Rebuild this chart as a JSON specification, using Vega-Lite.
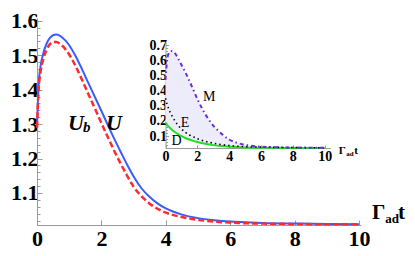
{
  "$schema": "https://vega.github.io/schema/vega-lite/v6.json",
  "width": 324,
  "height": 207,
  "autosize": {"type": "none"},
  "padding": {"left": 37, "top": 18, "right": 54, "bottom": 31},
  "background": "white",
  "config": {
    "view": {"stroke": null},
    "axis": {"grid": false, "domainColor": "#9a9a9a", "tickColor": "#9a9a9a", "labelColor": "#000", "labelFont": "Liberation Serif", "labelFontWeight": "bold", "title": null, "labelOverlap": false, "labelFlush": false, "labelBound": false}
  },
  "datasets": {
    "main": [
      {"t": 0, "U": 1.29, "Ub": 1.29},
      {"t": 0.05, "U": 1.415, "Ub": 1.40},
      {"t": 0.1, "U": 1.462, "Ub": 1.445},
      {"t": 0.2, "U": 1.507, "Ub": 1.49},
      {"t": 0.3, "U": 1.534, "Ub": 1.516},
      {"t": 0.4, "U": 1.550, "Ub": 1.532},
      {"t": 0.5, "U": 1.558, "Ub": 1.538},
      {"t": 0.6, "U": 1.560, "Ub": 1.538},
      {"t": 0.7, "U": 1.557, "Ub": 1.534},
      {"t": 0.8, "U": 1.550, "Ub": 1.526},
      {"t": 0.9, "U": 1.541, "Ub": 1.515},
      {"t": 1.0, "U": 1.529, "Ub": 1.502},
      {"t": 1.2, "U": 1.497, "Ub": 1.468},
      {"t": 1.4, "U": 1.459, "Ub": 1.428},
      {"t": 1.6, "U": 1.418, "Ub": 1.386},
      {"t": 1.8, "U": 1.378, "Ub": 1.345},
      {"t": 2.0, "U": 1.338, "Ub": 1.303},
      {"t": 2.2, "U": 1.297, "Ub": 1.262},
      {"t": 2.4, "U": 1.257, "Ub": 1.222},
      {"t": 2.6, "U": 1.219, "Ub": 1.185},
      {"t": 2.8, "U": 1.182, "Ub": 1.150},
      {"t": 3.0, "U": 1.148, "Ub": 1.118},
      {"t": 3.25, "U": 1.113, "Ub": 1.090},
      {"t": 3.5, "U": 1.088, "Ub": 1.069},
      {"t": 3.75, "U": 1.069, "Ub": 1.054},
      {"t": 4.0, "U": 1.055, "Ub": 1.043},
      {"t": 4.5, "U": 1.037, "Ub": 1.030},
      {"t": 5.0, "U": 1.027, "Ub": 1.022},
      {"t": 5.5, "U": 1.021, "Ub": 1.017},
      {"t": 6.0, "U": 1.017, "Ub": 1.014},
      {"t": 6.5, "U": 1.015, "Ub": 1.012},
      {"t": 7.0, "U": 1.013, "Ub": 1.011},
      {"t": 8.0, "U": 1.011, "Ub": 1.010},
      {"t": 9.0, "U": 1.010, "Ub": 1.009},
      {"t": 10.0, "U": 1.009, "Ub": 1.009}
    ],
    "inset": [
      {"t": 0, "M": 0.47, "E": 0.35, "D": 0.19},
      {"t": 0.1, "M": 0.60, "E": 0.31, "D": 0.175},
      {"t": 0.2, "M": 0.645, "E": 0.28, "D": 0.163},
      {"t": 0.3, "M": 0.658, "E": 0.255, "D": 0.152},
      {"t": 0.4, "M": 0.66, "E": 0.235, "D": 0.142},
      {"t": 0.6, "M": 0.645, "E": 0.20, "D": 0.126},
      {"t": 0.8, "M": 0.61, "E": 0.17, "D": 0.112},
      {"t": 1.0, "M": 0.57, "E": 0.148, "D": 0.100},
      {"t": 1.25, "M": 0.52, "E": 0.125, "D": 0.088},
      {"t": 1.5, "M": 0.465, "E": 0.108, "D": 0.078},
      {"t": 1.75, "M": 0.405, "E": 0.095, "D": 0.069},
      {"t": 2.0, "M": 0.345, "E": 0.083, "D": 0.062},
      {"t": 2.5, "M": 0.245, "E": 0.066, "D": 0.050},
      {"t": 3.0, "M": 0.17, "E": 0.054, "D": 0.041},
      {"t": 3.5, "M": 0.118, "E": 0.045, "D": 0.035},
      {"t": 4.0, "M": 0.078, "E": 0.038, "D": 0.031},
      {"t": 4.5, "M": 0.056, "E": 0.034, "D": 0.028},
      {"t": 5.0, "M": 0.043, "E": 0.031, "D": 0.026},
      {"t": 6.0, "M": 0.031, "E": 0.028, "D": 0.024},
      {"t": 7.0, "M": 0.027, "E": 0.026, "D": 0.023},
      {"t": 8.0, "M": 0.025, "E": 0.025, "D": 0.022},
      {"t": 9.0, "M": 0.024, "E": 0.024, "D": 0.022},
      {"t": 10.0, "M": 0.023, "E": 0.023, "D": 0.022}
    ],
    "mainBig": [
      {"x": 0.96, "y": 1.283, "label": "U"},
      {"x": 2.14, "y": 1.283, "label": "U"}
    ],
    "mainSub": [
      {"x": 1.43, "y": 1.277, "label": "b"}
    ],
    "mainTitle": [
      {"x": 10.40, "y": 1.0244, "label": "Γ"},
      {"x": 11.21, "y": 1.0244, "label": "t"}
    ],
    "mainTitleSub": [
      {"x": 10.81, "y": 1.0128, "label": "ad"}
    ],
    "insetText": [
      {"x": 2.36, "y": 0.331, "label": "M"},
      {"x": 0.96, "y": 0.158, "label": "E"},
      {"x": 0.38, "y": 0.045, "label": "D"}
    ],
    "insetTitle": [
      {"x": 10.88, "y": -0.017, "label": "Γ"},
      {"x": 11.86, "y": -0.017, "label": "t"}
    ],
    "insetTitleSub": [
      {"x": 11.36, "y": -0.031, "label": "ad"}
    ]
  },
  "layer": [
    {
      "layer": [
        {
          "data": {"name": "main"},
          "mark": {"type": "line", "color": "#3a5cff", "strokeWidth": 2, "interpolate": "monotone"},
          "encoding": {
            "x": {"field": "t", "type": "quantitative",
              "scale": {"domain": [0, 10.06], "nice": false, "zero": false},
              "axis": {"orient": "bottom", "labelOverlap": false, "values": [0,0.5,1,1.5,2,2.5,3,3.5,4,4.5,5,5.5,6,6.5,7,7.5,8,8.5,9,9.5,10],
                "labelExpr": "datum.value % 2 === 0 ? datum.label : ''",
                "tickSize": {"condition": {"test": "datum.value % 1 === 0", "value": -5}, "value": -3},
                "labelFontSize": 22, "labelPadding": 8}},
            "y": {"field": "U", "type": "quantitative",
              "scale": {"domain": [1.007, 1.608], "nice": false, "zero": false},
              "axis": {"orient": "left", "labelOverlap": false, "values": [1.1, 1.2, 1.3, 1.4, 1.5, 1.6], "format": ".1f",
                "tickSize": -5, "labelFontSize": 22, "labelPadding": 4, "labelBaseline": "middle"}}
          }
        },
        {
          "data": {"name": "main"},
          "mark": {"type": "line", "color": "#ff2a2a", "strokeWidth": 2.5, "strokeDash": [6, 3], "interpolate": "monotone"},
          "encoding": {
            "x": {"field": "t", "type": "quantitative"},
            "y": {"field": "Ub", "type": "quantitative"}
          }
        },
        {
          "data": {"name": "mainBig"},
          "mark": {"type": "text", "align": "left", "baseline": "alphabetic", "font": "Liberation Serif", "fontWeight": "bold", "fontStyle": "italic", "fontSize": 22, "color": "#000"},
          "encoding": {"x": {"field": "x", "type": "quantitative"}, "y": {"field": "y", "type": "quantitative"}, "text": {"field": "label"}}
        },
        {
          "data": {"name": "mainSub"},
          "mark": {"type": "text", "align": "left", "baseline": "alphabetic", "font": "Liberation Serif", "fontWeight": "bold", "fontStyle": "italic", "fontSize": 15, "color": "#000"},
          "encoding": {"x": {"field": "x", "type": "quantitative"}, "y": {"field": "y", "type": "quantitative"}, "text": {"field": "label"}}
        },
        {
          "data": {"name": "mainTitle"},
          "mark": {"type": "text", "align": "left", "baseline": "alphabetic", "font": "Liberation Serif", "fontWeight": "bold", "fontSize": 21, "color": "#000"},
          "encoding": {"x": {"field": "x", "type": "quantitative"}, "y": {"field": "y", "type": "quantitative"}, "text": {"field": "label"}}
        },
        {
          "data": {"name": "mainTitleSub"},
          "mark": {"type": "text", "align": "left", "baseline": "alphabetic", "font": "Liberation Serif", "fontWeight": "bold", "fontSize": 13, "color": "#000"},
          "encoding": {"x": {"field": "x", "type": "quantitative"}, "y": {"field": "y", "type": "quantitative"}, "text": {"field": "label"}}
        }
      ]
    },
    {
      "data": {"name": "main"},
      "mark": {"type": "line", "opacity": 0},
      "encoding": {
        "x": {"field": "t", "type": "quantitative", "scale": {"domain": [0, 10.06], "nice": false, "zero": false}, "axis": null},
        "y": {"field": "U", "type": "quantitative",
          "scale": {"domain": [1.007, 1.608], "nice": false, "zero": false},
          "axis": {"orient": "left", "labels": false, "domain": false, "tickSize": -3,
            "values": [1.02,1.04,1.06,1.08,1.12,1.14,1.16,1.18,1.22,1.24,1.26,1.28,1.32,1.34,1.36,1.38,1.42,1.44,1.46,1.48,1.52,1.54,1.56,1.58]}}
      }
    },
    {
      "layer": [
        {
          "data": {"name": "inset"},
          "mark": {"type": "area", "color": "#ececfb", "interpolate": "monotone"},
          "encoding": {
            "x": {"field": "t", "type": "quantitative",
              "scale": {"domain": [0, 10.35], "range": [128.5, 293.2], "nice": false, "zero": false},
              "axis": {"orient": "bottom", "offset": -77, "labelOverlap": false, "values": [0,0.5,1,1.5,2,2.5,3,3.5,4,4.5,5,5.5,6,6.5,7,7.5,8,8.5,9,9.5,10],
                "labelExpr": "datum.value % 2 === 0 ? datum.label : ''",
                "tickSize": {"condition": {"test": "datum.value % 1 === 0", "value": -3}, "value": -2},
                "labelFontSize": 14, "labelPadding": 4}},
            "y": {"field": "M", "type": "quantitative",
              "scale": {"domain": [0.022, 0.72], "range": [130, 24], "nice": false, "zero": false},
              "axis": {"orient": "left", "offset": -128.5, "labelOverlap": false, "values": [0.1, 0.3, 0.5, 0.7], "format": ".1f",
                "tickSize": -3, "labelFontSize": 14, "labelPadding": 2, "labelBaseline": "middle"}},
            "y2": {"field": "D"}
          }
        },
        {
          "data": {"name": "inset"},
          "mark": {"type": "line", "color": "#22dd22", "strokeWidth": 2, "interpolate": "monotone"},
          "encoding": {"x": {"field": "t", "type": "quantitative"}, "y": {"field": "D", "type": "quantitative"}}
        },
        {
          "data": {"name": "inset"},
          "mark": {"type": "line", "color": "#000", "strokeWidth": 1.6, "strokeDash": [1.5, 3], "interpolate": "monotone"},
          "encoding": {"x": {"field": "t", "type": "quantitative"}, "y": {"field": "E", "type": "quantitative"}}
        },
        {
          "data": {"name": "inset"},
          "mark": {"type": "line", "color": "#6a2ed8", "strokeWidth": 2, "strokeDash": [4, 3, 1.5, 3], "interpolate": "monotone"},
          "encoding": {"x": {"field": "t", "type": "quantitative"}, "y": {"field": "M", "type": "quantitative"}}
        },
        {
          "data": {"name": "insetText"},
          "mark": {"type": "text", "align": "left", "baseline": "alphabetic", "font": "Liberation Serif", "fontSize": 14, "color": "#000"},
          "encoding": {"x": {"field": "x", "type": "quantitative"}, "y": {"field": "y", "type": "quantitative"}, "text": {"field": "label"}}
        },
        {
          "data": {"name": "insetTitle"},
          "mark": {"type": "text", "align": "left", "baseline": "alphabetic", "font": "Liberation Serif", "fontWeight": "bold", "fontSize": 11, "color": "#000"},
          "encoding": {"x": {"field": "x", "type": "quantitative"}, "y": {"field": "y", "type": "quantitative"}, "text": {"field": "label"}}
        },
        {
          "data": {"name": "insetTitleSub"},
          "mark": {"type": "text", "align": "left", "baseline": "alphabetic", "font": "Liberation Serif", "fontWeight": "bold", "fontSize": 7, "color": "#000"},
          "encoding": {"x": {"field": "x", "type": "quantitative"}, "y": {"field": "y", "type": "quantitative"}, "text": {"field": "label"}}
        }
      ]
    },
    {
      "data": {"name": "inset"},
      "mark": {"type": "line", "opacity": 0},
      "encoding": {
        "x": {"field": "t", "type": "quantitative", "scale": {"domain": [0, 10.35], "range": [128.5, 293.2], "nice": false, "zero": false}, "axis": null},
        "y": {"field": "M", "type": "quantitative",
          "scale": {"domain": [0.022, 0.72], "range": [130, 24], "nice": false, "zero": false},
          "axis": {"orient": "left", "offset": -128.5, "labels": false, "domain": false, "tickSize": -2,
            "values": [0.04,0.06,0.08,0.12,0.14,0.16,0.18,0.22,0.24,0.26,0.28,0.32,0.34,0.36,0.38,0.42,0.44,0.46,0.48,0.52,0.54,0.56,0.58,0.62,0.64,0.66,0.68]}}
      }
    },
    {
      "data": {"name": "inset"},
      "mark": {"type": "line", "opacity": 0},
      "encoding": {
        "x": {"field": "t", "type": "quantitative", "scale": {"domain": [0, 10.35], "range": [128.5, 293.2], "nice": false, "zero": false}, "axis": null},
        "y": {"field": "M", "type": "quantitative",
          "scale": {"domain": [0.022, 0.72], "range": [130, 24], "nice": false, "zero": false},
          "axis": {"orient": "left", "offset": -128.5, "labelOverlap": false, "domain": false, "tickSize": -3, "values": [0.2, 0.4, 0.6], "format": ".1f",
            "labelFontSize": 14, "labelPadding": 2, "labelBaseline": "middle"}}
      }
    }
  ],
  "resolve": {"scale": {"x": "independent", "y": "independent"}, "axis": {"x": "independent", "y": "independent"}}
}
